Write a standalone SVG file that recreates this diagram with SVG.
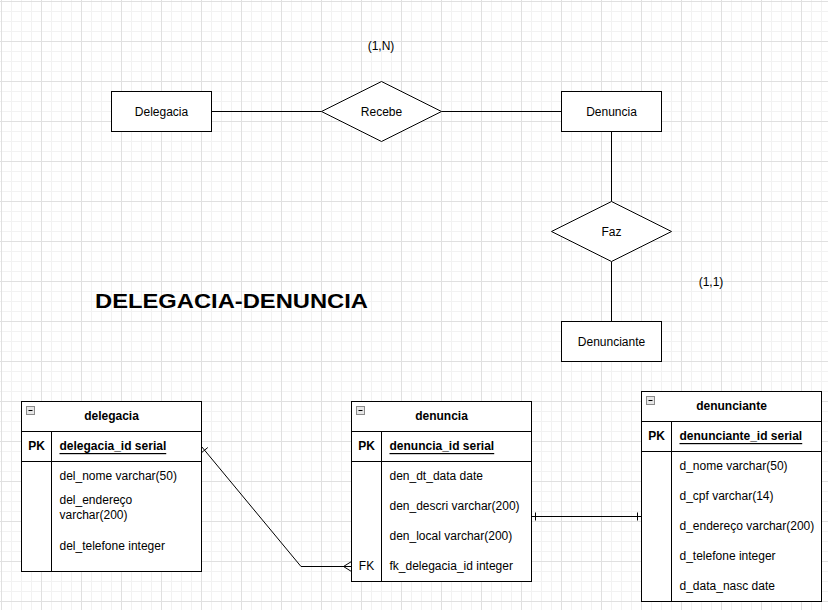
<svg xmlns="http://www.w3.org/2000/svg" width="828" height="610" viewBox="0 0 828 610">
<defs>
<pattern id="grid" width="40" height="40" patternUnits="userSpaceOnUse" x="1" y="1">
<path d="M10.5 0V40M20.5 0V40M30.5 0V40M0 10.5H40M0 20.5H40M0 30.5H40" stroke="#f2f2f2" stroke-width="1" fill="none"/>
<path d="M0.5 0V40M0 0.5H40" stroke="#e0e0e0" stroke-width="1" fill="none"/>
</pattern>
<style>
text{font-family:"Liberation Sans",Arial,sans-serif;font-size:12px;fill:#000;dominant-baseline:central}
.c{text-anchor:middle}
.b{font-weight:bold}
.u{text-decoration:underline}
.shape{fill:#fff;stroke:#000;stroke-width:1}
.ln{fill:none;stroke:#000;stroke-width:1}
.icon{fill:#e6e6e6;stroke:#8a8a8a;stroke-width:1}
</style>
</defs>
<rect width="828" height="610" fill="#fff"/>
<rect width="828" height="610" fill="url(#grid)"/>

<g id="connectors">
<path class="ln" d="M211.5 111.5H321.5"/>
<path class="ln" d="M441.5 111.5H561.5"/>
<path class="ln" d="M611.5 131.5V201.5"/>
<path class="ln" d="M611.5 261.5V321.5"/>
<path class="ln" d="M201.5 446.5L301 566.5H351.5"/>
<path class="ln" d="M201.6 452.6L207.8 447.5"/>
<path class="ln" d="M343.5 566.5L351.5 561.5M343.5 566.5L351.5 571.5"/>
<path class="ln" d="M531.5 516.5H641.5"/>
<path class="ln" d="M535.5 512.5V520.5M637.5 512.5V520.5"/>
</g>

<g id="Delegacia">
<rect class="shape" x="111.5" y="91.5" width="100" height="40"/>
<text class="c" x="161.5" y="111.5">Delegacia</text>
</g>
<g id="Recebe">
<path class="shape" d="M381.5 81.5L441.5 111.5L381.5 141.5L321.5 111.5Z"/>
<text class="c" x="381.5" y="111.5">Recebe</text>
</g>
<g id="Denuncia">
<rect class="shape" x="561.5" y="91.5" width="100" height="40"/>
<text class="c" x="611.5" y="111.5">Denuncia</text>
</g>
<g id="Faz">
<path class="shape" d="M611.5 201.5L671.5 231.5L611.5 261.5L551.5 231.5Z"/>
<text class="c" x="611.5" y="231.5">Faz</text>
</g>
<g id="Denunciante">
<rect class="shape" x="561.5" y="321.5" width="100" height="40"/>
<text class="c" x="611.5" y="341.5">Denunciante</text>
</g>
<g id="card-1N"><text class="c" x="381" y="46">(1,N)</text></g>
<g id="card-11"><text class="c" x="711" y="281.5">(1,1)</text></g>
<g id="title">
<text class="b" x="95" y="300.5" style="font-size:20px" textLength="273" lengthAdjust="spacingAndGlyphs">DELEGACIA-DENUNCIA</text>
</g>

<g id="table-delegacia">
<rect class="shape" x="21.5" y="401.5" width="180" height="170"/>
<path class="ln" d="M21.5 431.5H201.5M21.5 461.5H201.5M51.5 431.5V571.5"/>
<rect class="icon" x="26.5" y="406.5" width="8" height="8"/>
<path class="ln" d="M28.5 410.5H32.5" stroke="#333"/>
<text class="c b" x="111.5" y="416">delegacia</text>
<text class="c b" x="36.5" y="446">PK</text>
<text class="b u" x="59.5" y="446">delegacia_id serial</text>
<text x="59.5" y="476">del_nome varchar(50)</text>
<text x="59.5" y="500">del_endereço</text>
<text x="59.5" y="515">varchar(200)</text>
<text x="59.5" y="545.5">del_telefone integer</text>
</g>

<g id="table-denuncia">
<rect class="shape" x="351.5" y="401.5" width="180" height="180"/>
<path class="ln" d="M351.5 431.5H531.5M351.5 461.5H531.5M381.5 431.5V581.5"/>
<rect class="icon" x="356.5" y="406.5" width="8" height="8"/>
<path class="ln" d="M358.5 410.5H362.5" stroke="#333"/>
<text class="c b" x="441.5" y="416">denuncia</text>
<text class="c b" x="366.5" y="446">PK</text>
<text class="b u" x="389.5" y="446">denuncia_id serial</text>
<text x="389.5" y="476">den_dt_data date</text>
<text x="389.5" y="506">den_descri varchar(200)</text>
<text x="389.5" y="536">den_local varchar(200)</text>
<text class="c" x="366.5" y="566">FK</text>
<text x="389.5" y="566">fk_delegacia_id integer</text>
</g>

<g id="table-denunciante">
<rect class="shape" x="641.5" y="391.5" width="180" height="210"/>
<path class="ln" d="M641.5 421.5H821.5M641.5 451.5H821.5M671.5 421.5V601.5"/>
<rect class="icon" x="646.5" y="396.5" width="8" height="8"/>
<path class="ln" d="M648.5 400.5H652.5" stroke="#333"/>
<text class="c b" x="731.5" y="406">denunciante</text>
<text class="c b" x="656.5" y="436">PK</text>
<text class="b u" x="679.5" y="436">denunciante_id serial</text>
<text x="679.5" y="466">d_nome varchar(50)</text>
<text x="679.5" y="496">d_cpf varchar(14)</text>
<text x="679.5" y="526">d_endereço varchar(200)</text>
<text x="679.5" y="556">d_telefone integer</text>
<text x="679.5" y="586">d_data_nasc date</text>
</g>
</svg>
